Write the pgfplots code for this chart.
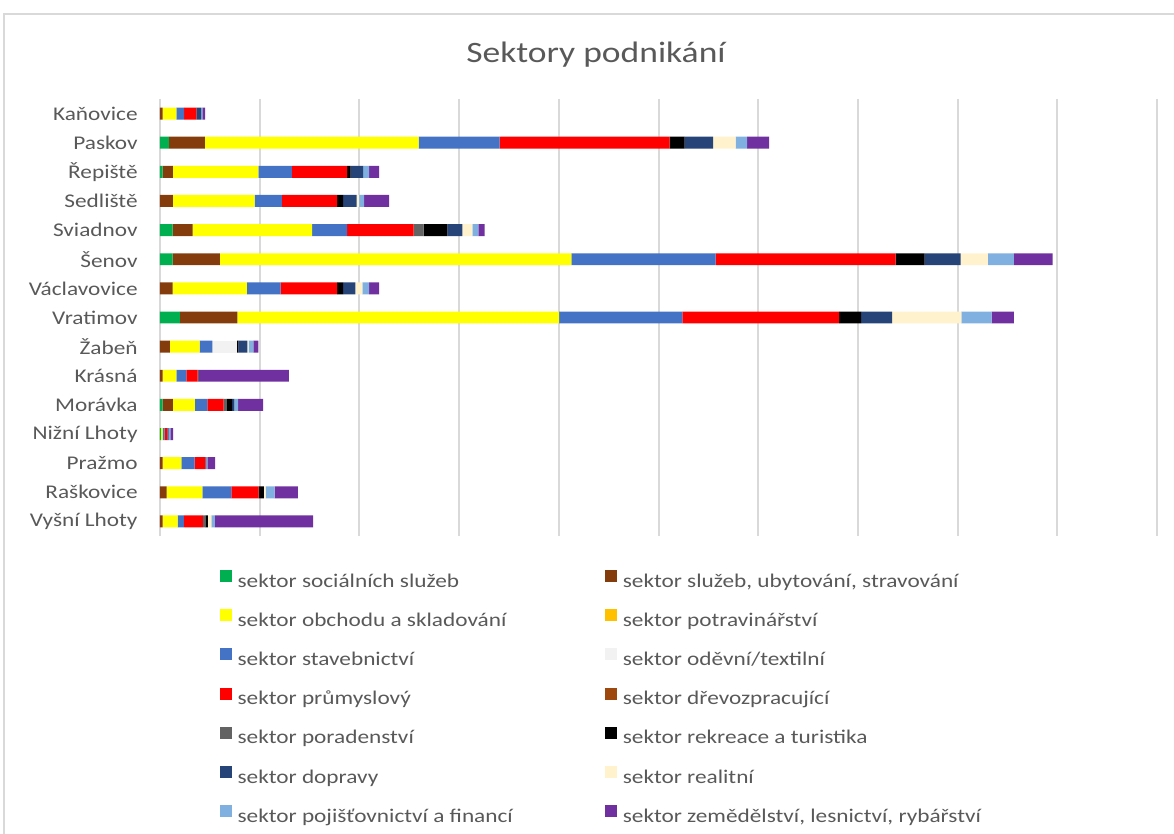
\documentclass[border=0pt]{standalone}
\usepackage{pgfplots}
\usepackage{pgfplotstable}
\pgfplotsset{compat=1.18}
\usepackage{fontspec}
\setmainfont{Carlito}[FakeStretch=1.2]
\definecolor{txt}{HTML}{595959}
\definecolor{gridc}{HTML}{D9D9D9}
\definecolor{csoc}{HTML}{00B050}
\definecolor{csluz}{HTML}{843C0C}
\definecolor{cobch}{HTML}{FFFF00}
\definecolor{cpotr}{HTML}{FFC000}
\definecolor{cstav}{HTML}{4472C4}
\definecolor{coded}{HTML}{F2F2F2}
\definecolor{cprum}{HTML}{FF0000}
\definecolor{cdrev}{HTML}{9E480E}
\definecolor{cporad}{HTML}{636363}
\definecolor{crekr}{HTML}{000000}
\definecolor{cdopr}{HTML}{264478}
\definecolor{creal}{HTML}{FFF2CC}
\definecolor{cpoj}{HTML}{7FB0DF}
\definecolor{czem}{HTML}{7030A0}
\pgfplotstableread{
y soc sluz obch potr stav oded prum drev porad rekr dopr real poj zem
0 0 0.27 1.37 0 0.77 0 1.23 0 0 0 0.47 0 0.13 0.27
1 0.9 3.6 21.37 0 8.1 0 17.0 0 0 1.5 2.83 2.27 1.13 2.2
2 0.27 1.03 8.53 0 3.37 0 5.5 0 0 0.37 1.23 0 0.6 1.0
3 0 1.3 8.17 0 2.73 0 5.5 0 0 0.6 1.37 0.23 0.5 2.5
4 1.27 2.0 11.93 0 3.5 0 6.67 0 1.0 2.37 1.5 1.0 0.6 0.63
5 1.27 4.73 35.13 0 14.43 0 18.0 0 0 2.9 3.6 2.73 2.6 3.87
6 0 1.27 7.43 0 3.37 0 5.63 0 0 0.6 1.23 0.7 0.67 1.0
7 2.0 5.73 32.17 0 12.33 0 15.67 0 0 2.2 3.1 6.93 3.03 2.23
8 0 1.0 2.97 0 1.27 2.47 0 0 0 0.13 0.9 0.13 0.47 0.5
9 0 0.27 1.37 0 1.0 0 1.13 0 0.13 0 0 0 0 9.0
10 0.27 1.03 2.2 0 1.23 0 1.63 0 0.33 0.53 0.23 0 0.37 2.5
11 0.1 0 0.17 0 0.2 0 0.27 0 0 0 0.13 0 0.17 0.27
12 0 0.27 1.87 0 1.33 0 1.07 0 0 0 0.1 0 0.1 0.77
13 0 0.67 3.57 0 2.9 0 2.73 0 0 0.53 0 0.17 0.9 2.33
14 0 0.27 1.5 0 0.63 0 1.9 0 0.23 0.27 0 0.33 0.37 9.8
}\data
\pgfplotsset{
  mybar/.style={fill=#1, draw=none,
    legend image code/.code={\fill[fill=#1] (0pt,0pt) rectangle (6pt,6pt);}},
}
\newcommand{\legent}[1]{\addlegendentry{\makebox[181pt][l]{#1}}}
\begin{document}
\begin{tikzpicture}
\useasboundingbox (0,0) rectangle (587pt,417pt);
\draw[gridc, line width=0.8pt] (2pt,0pt) -- (2pt,410pt) -- (587pt,410pt);
\begin{axis}[
  at={(80pt,149pt)}, anchor=south west,
  scale only axis, width=498.5pt, height=218.5pt,
  xbar stacked, bar width=0.41,
  xmin=0, xmax=99.7, ymin=-0.5, ymax=14.5, y dir=reverse,
  xtick={0,9.97,19.94,29.91,39.88,49.85,59.82,69.79,79.76,89.73,99.7},
  xticklabels={},
  xmajorgrids, grid style={line width=1pt, color=gridc},
  axis line style={draw=none}, major tick length=0pt,
  ytick={0,...,14},
  yticklabels={Kaňovice,Paskov,Řepiště,Sedliště,Sviadnov,Šenov,Václavovice,Vratimov,Žabeň,Krásná,Morávka,Nižní Lhoty,Pražmo,Raškovice,Vyšní Lhoty},
  yticklabel style={font=\fontsize{9.7pt}{11pt}\selectfont, color=txt, inner sep=0pt, xshift=-11pt},
  title={\fontsize{14.8pt}{17pt}\selectfont Sektory podnikání},
  title style={color=txt, at={(0.4373,1.056)}, anchor=base, inner sep=0pt},
  legend columns=2,
  legend cell align=left,
  legend style={at={(0.0602,-0.0780)}, anchor=north west, draw=none, fill=none,
    inner sep=0pt, outer sep=0pt, column sep=2.8pt, row sep=9.1pt,
    font=\fontsize{9.7pt}{11pt}\selectfont, text=txt,
    nodes={inner sep=0pt, text height=7pt, text depth=2pt}},
]
\addplot[mybar=csoc] table[x=soc,y=y]{\data}; \legent{sektor sociálních služeb}
\addplot[mybar=csluz] table[x=sluz,y=y]{\data}; \legent{sektor služeb, ubytování, stravování}
\addplot[mybar=cobch] table[x=obch,y=y]{\data}; \legent{sektor obchodu a skladování}
\addplot[mybar=cpotr] table[x=potr,y=y]{\data}; \legent{sektor potravinářství}
\addplot[mybar=cstav] table[x=stav,y=y]{\data}; \legent{sektor stavebnictví}
\addplot[mybar=coded] table[x=oded,y=y]{\data}; \legent{sektor oděvní/textilní}
\addplot[mybar=cprum] table[x=prum,y=y]{\data}; \legent{sektor průmyslový}
\addplot[mybar=cdrev] table[x=drev,y=y]{\data}; \legent{sektor dřevozpracující}
\addplot[mybar=cporad] table[x=porad,y=y]{\data}; \legent{sektor poradenství}
\addplot[mybar=crekr] table[x=rekr,y=y]{\data}; \legent{sektor rekreace a turistika}
\addplot[mybar=cdopr] table[x=dopr,y=y]{\data}; \legent{sektor dopravy}
\addplot[mybar=creal] table[x=real,y=y]{\data}; \legent{sektor realitní}
\addplot[mybar=cpoj] table[x=poj,y=y]{\data}; \legent{sektor pojišťovnictví a financí}
\addplot[mybar=czem] table[x=zem,y=y]{\data}; \legent{sektor zemědělství, lesnictví, rybářství}
\end{axis}
\end{tikzpicture}
\end{document}
